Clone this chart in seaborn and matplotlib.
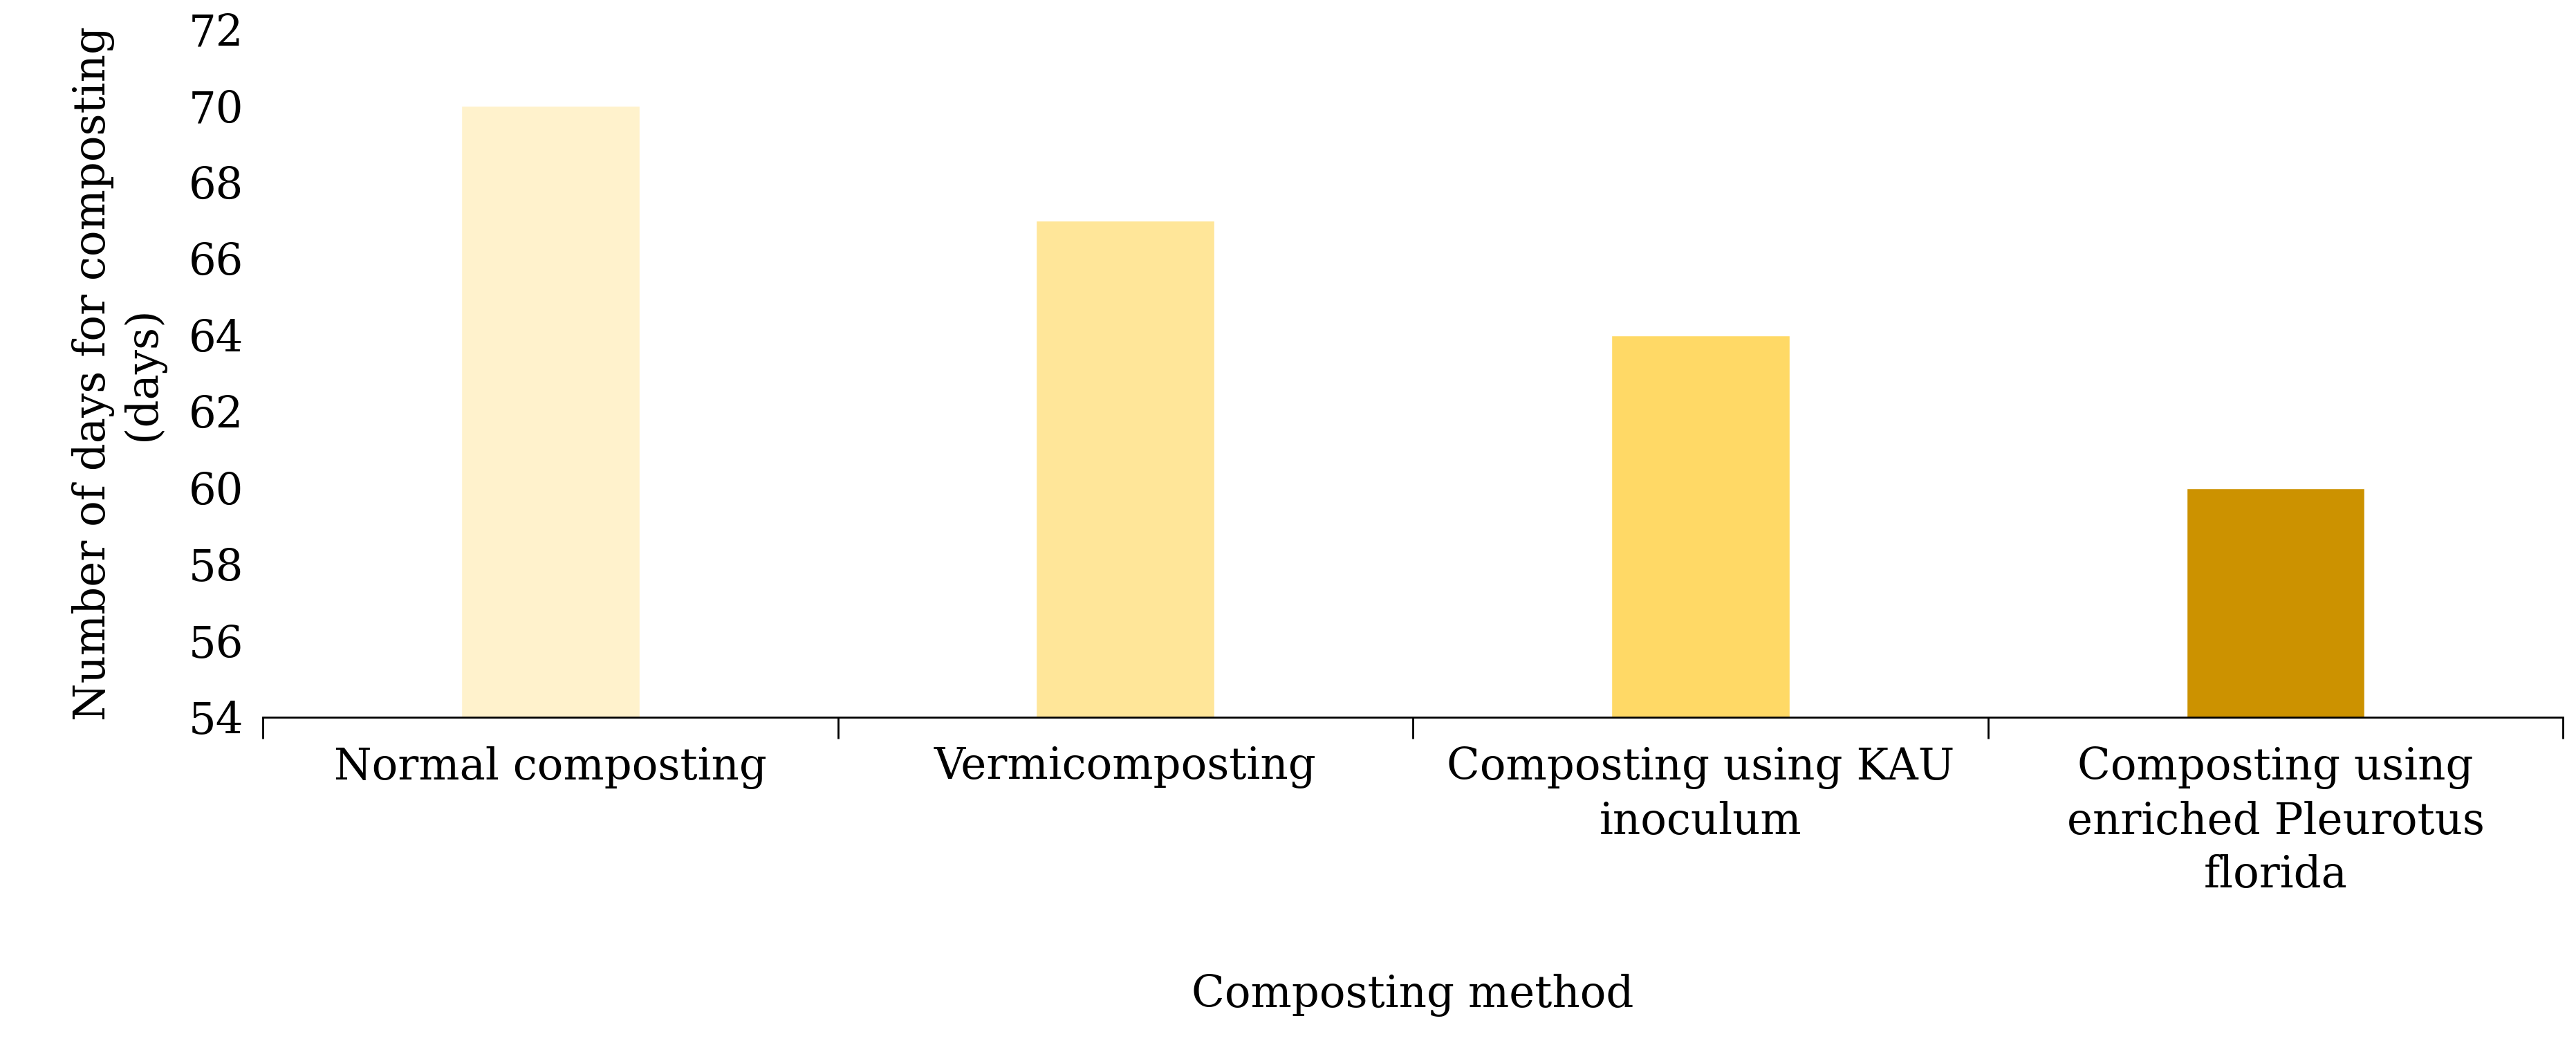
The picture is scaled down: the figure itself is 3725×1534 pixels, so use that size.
import pandas as pd
import matplotlib.pyplot as plt
import seaborn as sns
from matplotlib.ticker import FixedLocator

methods = ["Normal composting", "Vermicomposting",
           "Composting using KAU\ninoculum",
           "Composting using\nenriched Pleurotus\nflorida"]
days = [70, 67, 64, 60]
colors = ["#FFF2CC", "#FFE699", "#FFD966", "#CC9200"]

df = pd.DataFrame({"method": methods, "days": days})

sns.set_style("white")
plt.rcParams['font.family'] = ['DejaVu Serif']
plt.rcParams['text.color'] = 'black'
plt.rcParams['axes.labelcolor'] = 'black'
plt.rcParams['xtick.color'] = 'black'
plt.rcParams['ytick.color'] = 'black'

fig = plt.figure(figsize=(37.25, 15.34), dpi=100)
ax = fig.add_axes([0.102, 0.324, 0.893, 0.648])
sns.barplot(data=df, x="method", y="days", hue="method", palette=colors,
            legend=False, width=0.31, saturation=1, ax=ax, bottom=0)
ax.set_ylim(54, 72)
ax.set_yticks(range(54, 73, 2))
ax.set_xlim(-0.5, 3.5)
for s in ["top", "right", "left"]:
    ax.spines[s].set_visible(False)
ax.spines["bottom"].set_linewidth(2)
ax.spines["bottom"].set_color("black")
ax.tick_params(axis="x", which="major", length=0, pad=30, labelsize=45)
ax.tick_params(axis="y", length=0, labelsize=45, pad=20)
ax.xaxis.set_minor_locator(FixedLocator([-0.5, 0.5, 1.5, 2.5, 3.5]))
ax.tick_params(axis="x", which="minor", bottom=True, length=22, width=2,
               direction="out", color="black")
for lbl in ax.get_xticklabels():
    lbl.set_verticalalignment("top")
    lbl.set_linespacing(1.35)
ax.set_xlabel("Composting method", fontsize=45, labelpad=80)
ax.set_ylabel("Number of days for composting\n(days)", fontsize=45, labelpad=25)

fig.savefig("out.png", dpi=100)
